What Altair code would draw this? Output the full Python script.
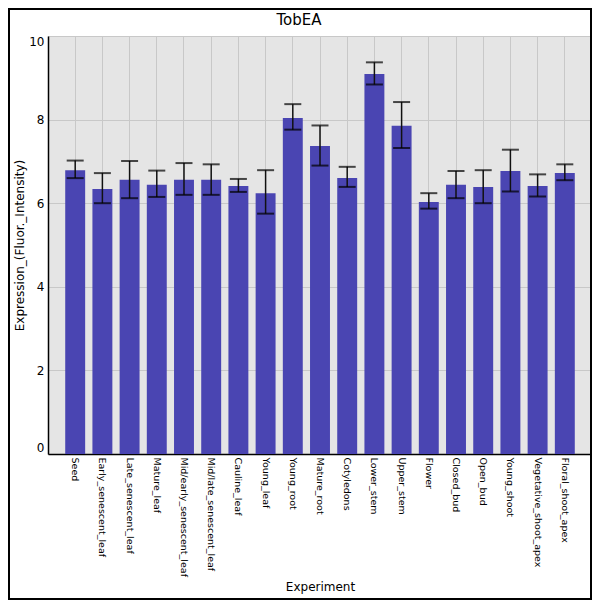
import altair as alt
import pandas as pd

categories = ["Seed", "Early_senescent_leaf", "Late_senescent_leaf", "Mature_leaf",
              "Mid/early_senescent_leaf", "Mid/late_senescent_leaf", "Cauline_leaf",
              "Young_leaf", "Young_root", "Mature_root", "Cotyledons", "Lower_stem",
              "Upper_stem", "Flower", "Closed_bud", "Open_bud", "Young_shoot",
              "Vegetative_shoot_apex", "Floral_shoot_apex"]
values = [6.79, 6.34, 6.56, 6.44, 6.56, 6.56, 6.41, 6.24, 8.04, 7.37, 6.60, 9.09,
          7.85, 6.03, 6.44, 6.39, 6.77, 6.41, 6.72]
err_hi = [7.02, 6.72, 7.01, 6.78, 6.96, 6.93, 6.58, 6.79, 8.37, 7.86, 6.87, 9.37,
          8.42, 6.24, 6.77, 6.79, 7.28, 6.69, 6.93]
err_lo = [6.60, 6.00, 6.12, 6.15, 6.20, 6.20, 6.27, 5.75, 7.76, 6.90, 6.39, 8.84,
          7.32, 5.87, 6.12, 6.00, 6.28, 6.16, 6.55]
y_ticks = [0, 2, 4, 6, 8, 10]

df = pd.DataFrame({"Experiment": categories, "value": values,
                   "hi": err_hi, "lo": err_lo})

FONT = "DejaVu Sans"
W, H = 544, 418
PAD_L, PAD_T, PAD_R, PAD_B = 40, 28, 0, 146

xenc = alt.X("Experiment:N", sort=categories,
             scale=alt.Scale(paddingInner=0.267, paddingOuter=0.633),
             axis=alt.Axis(title="Experiment", labelAngle=90, labelAlign="left",
                           labelBaseline="middle", labelFontSize=9.5, labelPadding=3,
                           ticks=False, domainColor="black", domainWidth=1.5,
                           grid=True, gridColor="#c8c8c8", bandPosition=0.5,
                           titleFontSize=12, titleBaseline="alphabetic",
                           titleY=136, labelColor="black", titleColor="black"))
yscale = alt.Scale(domain=[0, 10], nice=False)
yaxis = alt.Axis(title="Expression_(Fluor._Intensity)", values=y_ticks,
                 ticks=False, labelFlush=True, labelFontSize=12, labelPadding=4,
                 domainColor="black", domainWidth=1.5, grid=True, gridColor="#c8c8c8",
                 titleFontSize=12, titleBaseline="alphabetic", titleX=-24.5,
                 titleY=H / 2, labelColor="black", titleColor="black")

base = alt.Chart(df)
bars = base.mark_bar(color="#4a45b2").encode(
    x=xenc, y=alt.Y("value:Q", scale=yscale, axis=yaxis))
rules = base.mark_rule(color="#111111", strokeWidth=1.5).encode(
    x=alt.X("Experiment:N", sort=categories), y="lo:Q", y2="hi:Q")
cap_hi = base.mark_tick(color="black", thickness=2, size=17).encode(
    x=alt.X("Experiment:N", sort=categories), y="hi:Q")
cap_lo = base.mark_tick(color="black", thickness=2, size=17).encode(
    x=alt.X("Experiment:N", sort=categories), y="lo:Q")

frame = alt.Chart(pd.DataFrame({"f": [0]})).mark_rect(
    filled=False, stroke="black", strokeWidth=2).encode(
    x=alt.value(1 - PAD_L), x2=alt.value(W + PAD_R - 1),
    y=alt.value(1 - PAD_T), y2=alt.value(H + PAD_B - 1))

chart = alt.layer(bars, rules, cap_hi, cap_lo, frame).properties(
    width=W, height=H,
    title=alt.TitleParams("TobEA", fontSize=15, font=FONT, fontWeight="normal",
                          color="black", anchor="middle", frame="group", dx=-21,
                          baseline="alphabetic", offset=10, dy=42),
    padding={"left": PAD_L, "top": PAD_T, "right": PAD_R, "bottom": PAD_B},
    autosize=alt.AutoSizeParams(type="none"),
    background="white",
).configure_view(
    fill="#e5e5e5", stroke="#c8c8c8"
).configure_axis(
    labelFont=FONT, titleFont=FONT, titleFontWeight="normal"
)

chart.save("out.html", embed_options={"renderer": "svg", "actions": False})
